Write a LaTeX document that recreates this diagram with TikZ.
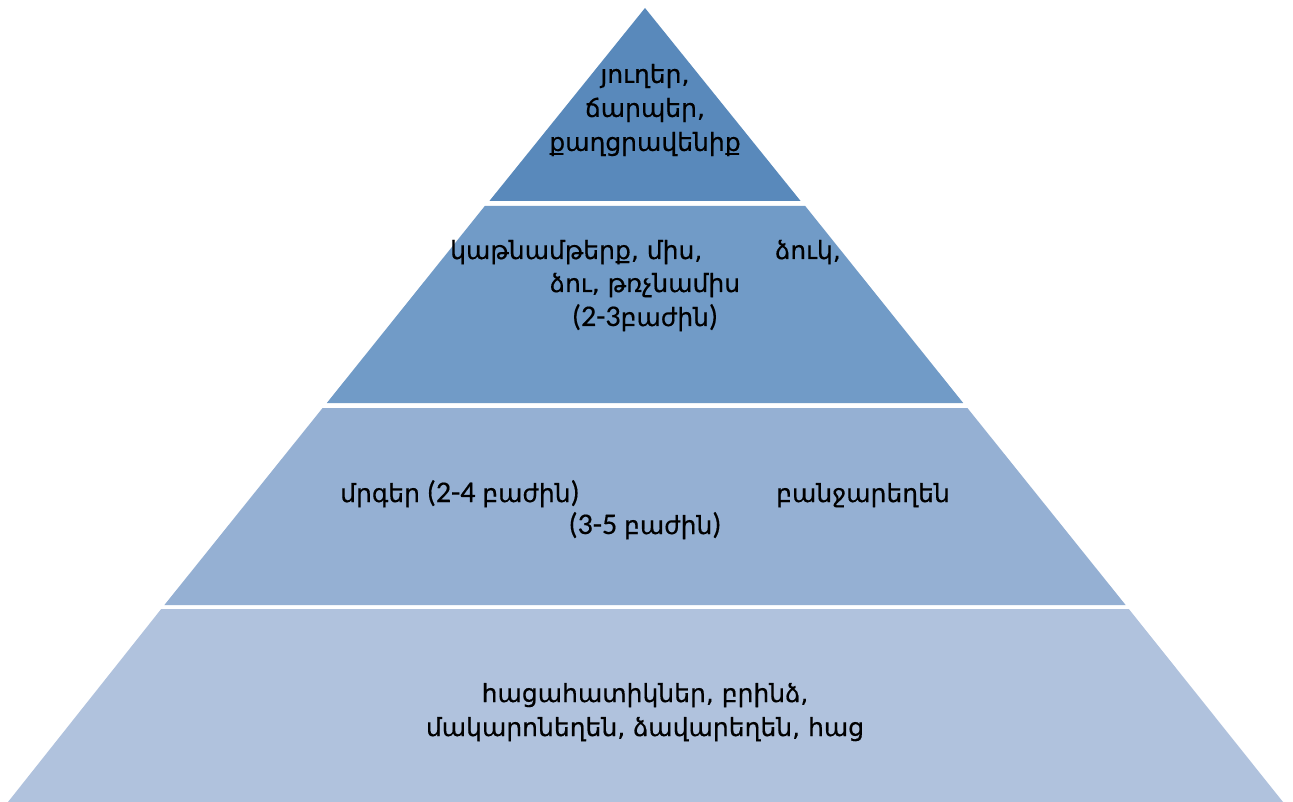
\documentclass[tikz,border=0pt]{standalone}
\usepackage{fontspec}
\setmainfont{Carlito}[FakeBold=0.4]
\newfontfamily\arm{DejaVu Sans}[FakeBold=0.4]
\definecolor{cA}{RGB}{89,137,187}
\definecolor{cB}{RGB}{113,155,199}
\definecolor{cC}{RGB}{149,176,211}
\definecolor{cD}{RGB}{176,194,221}
\tikzset{lbl/.style={inner sep=0pt,font=\fontsize{30}{34}\selectfont,text=black}}
\newcommand{\A}[1]{{\arm\fontsize{25}{34}\selectfont #1}}
\begin{document}
\begin{tikzpicture}[x=1pt,y=-1pt]
\useasboundingbox (0,0) rectangle (1293,802);
\fill[white] (0,0) rectangle (1293,802);
% layers
\fill[cA] (645,8) -- (800.6,201) -- (489.4,201) -- cycle;
\fill[cB] (484.8,206) -- (805.2,206) -- (963.2,403) -- (326.8,403) -- cycle;
\fill[cC] (322.6,408) -- (967.4,408) -- (1125.6,605) -- (164.4,605) -- cycle;
\fill[cD] (161.2,609) -- (1128.8,609) -- (1283,802) -- (8,802) -- cycle;
% texts
\node[lbl,align=center] (t1) at (645,110) {\A{յուղեր,}\\\A{ճարպեր,}\\\A{քաղցրավենիք}};
\node[lbl,anchor=base west] (t2a) at (450,259) {\A{կաթնամթերք, միս,}};
\node[lbl,anchor=base east] (t2b) at (841,259) {\A{ձուկ,}};
\node[lbl,anchor=base] (t2c) at (645,292) {\A{ձու, թռչնամիս}};
\node[lbl,anchor=base] (t2d) at (645,326) {(2-3\A{բաժին})};
\node[lbl,anchor=base west] (t3a) at (340,502) {\A{մրգեր} (2-4 \A{բաժին})};
\node[lbl,anchor=base east] (t3b) at (950,502) {\A{բանջարեղեն}};
\node[lbl,anchor=base] (t3c) at (645,534) {(3-5 \A{բաժին})};
\node[lbl,anchor=base] (t4a) at (645,702) {\A{հացահատիկներ, բրինձ,}};
\node[lbl,anchor=base] (t4b) at (645,736) {\A{մակարոնեղեն, ձավարեղեն, հաց}};
\end{tikzpicture}
\end{document}
